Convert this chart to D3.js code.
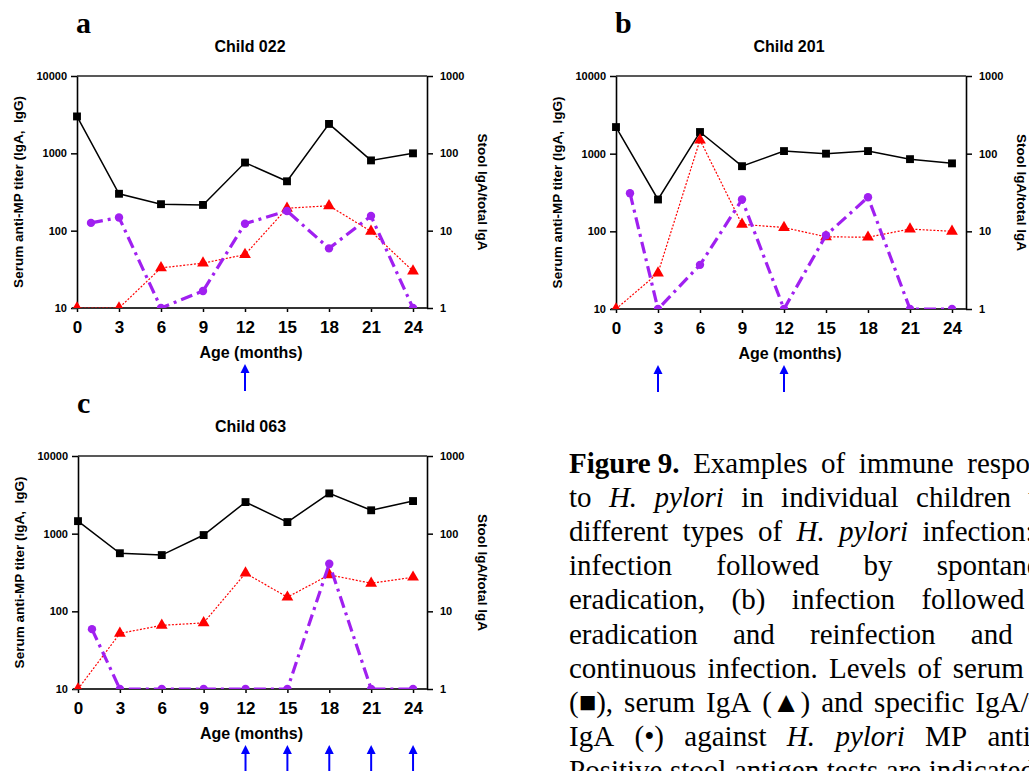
<!DOCTYPE html>
<html>
<head>
<meta charset="utf-8">
<script src="https://cdn.jsdelivr.net/npm/d3@7"></script>
<style>
  body { margin: 0; background: #fff; }
  svg { display: block; }
</style>
</head>
<body>
<div id="fig"></div>
<script>
// sampling points (months)
const months = [0, 3, 6, 9, 12, 15, 18, 21, 24];
const stoolMonths = [1, 3, 6, 9, 12, 15, 18, 21, 24];
const xTicks = [0, 3, 6, 9, 12, 15, 18, 21, 24];
const leftTicks = [10, 100, 1000, 10000];
const rightTicks = [1, 10, 100, 1000];

// Child 022 : serum IgG, serum IgA (left axis), stool IgA/total IgA (right axis)
const igg022 = [3000, 300, 220, 215, 760, 435, 2400, 810, 1000];
const iga022 = [10, 10, 33, 38, 49, 195, 210, 98, 30];
const stool022 = [12.6, 14.8, 1, 1.66, 12.3, 18, 5.9, 15.5, 1];
const arrows022 = [12];

// Child 201
const igg201 = [2200, 257, 1900, 690, 1080, 1000, 1080, 850, 750];
const iga201 = [10, 29, 1500, 123, 112, 85, 84, 107, 100];
const stool201 = [31, 1, 3.7, 25.7, 1, 8.9, 27.5, 1, 1];
const arrows201 = [3, 12];

// Child 063
const igg063 = [1450, 560, 530, 960, 2550, 1410, 3300, 2000, 2630];
const iga063 = [10, 52, 66, 71, 310, 152, 295, 230, 275];
const stool063 = [5.9, 1, 1, 1, 1, 1, 41, 1, 1];
const arrows063 = [12, 15, 18, 21, 24];

// caption lines (as they break in the figure)
const captionLines = [
  "Figure\u00a09. Examples of immune responses",
  "to H. pylori in individual children with",
  "different types of H. pylori infection: (a)",
  "infection followed by spontaneous",
  "eradication, (b) infection followed by",
  "eradication and reinfection and (c)",
  "continuous infection. Levels of serum IgG",
  "(\u25A0), serum IgA (\u25B2) and specific IgA/total",
  "IgA (\u2022) against H. pylori MP antigen.",
  "Positive stool antigen tests are indicated by arrows."
];
const boldWords = ["Figure\u00a09."];
const italicWords = ["H.", "pylori"];

const svgWidth = 1029;
const svgHeight = 771;
const sans = "'Liberation Sans', Arial, Helvetica, sans-serif";
const serif = "'Liberation Serif', 'Times New Roman', Times, serif";

var svg = d3.select("#fig")
  .append("svg")
  .attr("width", svgWidth)
  .attr("height", svgHeight);

var panels = [
  { id: "a", letter: "a", title: "Child 022", left: 77, top: 76, right: 427, bottom: 308,
    igg: igg022, iga: iga022, stool: stool022, arrows: arrows022 },
  { id: "b", letter: "b", title: "Child 201", left: 616, top: 76, right: 966, bottom: 309,
    igg: igg201, iga: iga201, stool: stool201, arrows: arrows201 },
  { id: "c", letter: "c", title: "Child 063", left: 78, top: 456, right: 427, bottom: 689,
    igg: igg063, iga: iga063, stool: stool063, arrows: arrows063 }
];

function drawPanel(p) {
  var x = d3.scaleLinear().domain([0, 25]).range([p.left, p.right]);
  var yLeft = d3.scaleLog().domain([10, 10000]).range([p.bottom, p.top]);
  var yRight = d3.scaleLog().domain([1, 1000]).range([p.bottom, p.top]);

  var g = svg.append("g").attr("class", "panel-" + p.id);

  // panel letter and title
  g.append("text")
    .attr("x", p.left - 1)
    .attr("y", p.top - 43)
    .attr("font-family", serif)
    .attr("font-weight", "bold")
    .attr("font-size", 30)
    .text(p.letter);

  g.append("text")
    .attr("x", (p.left + p.right) / 2 - 2)
    .attr("y", p.top - 24)
    .attr("text-anchor", "middle")
    .attr("font-family", sans)
    .attr("font-weight", "bold")
    .attr("font-size", 16)
    .text(p.title);

  // top frame line
  g.append("line")
    .attr("x1", p.left).attr("x2", p.right)
    .attr("y1", p.top).attr("y2", p.top)
    .attr("stroke", "#222").attr("stroke-width", 1.5);

  // left axis
  var leftAxis = d3.axisLeft(yLeft)
    .tickValues(leftTicks)
    .tickFormat(d3.format("d"))
    .tickSize(6)
    .tickSizeOuter(0)
    .tickPadding(4);
  var la = g.append("g")
    .attr("transform", `translate(${p.left}, 0)`)
    .call(leftAxis);

  // right axis
  var rightAxis = d3.axisRight(yRight)
    .tickValues(rightTicks)
    .tickFormat(d3.format("d"))
    .tickSize(6)
    .tickSizeOuter(0)
    .tickPadding(7);
  var ra = g.append("g")
    .attr("transform", `translate(${p.right}, 0)`)
    .call(rightAxis);

  [la, ra].forEach(function(ax) {
    ax.select(".domain").attr("stroke", "#000").attr("stroke-width", 1.6);
    ax.selectAll(".tick line").attr("stroke", "#000").attr("stroke-width", 1.5);
    ax.selectAll(".tick text")
      .attr("font-family", sans)
      .attr("font-weight", "bold")
      .attr("font-size", 11)
      .attr("fill", "#000");
  });

  // bottom axis
  var bottomAxis = d3.axisBottom(x)
    .tickValues(xTicks)
    .tickSize(4)
    .tickSizeOuter(0)
    .tickPadding(9);
  var ba = g.append("g")
    .attr("transform", `translate(0, ${p.bottom})`)
    .call(bottomAxis);
  ba.select(".domain").remove();
  ba.selectAll(".tick line").attr("stroke", "#000").attr("stroke-width", 1.5);
  ba.selectAll(".tick text")
    .attr("font-family", sans)
    .attr("font-weight", "bold")
    .attr("font-size", 17)
    .attr("fill", "#000");
  ba.append("line")
    .attr("x1", p.left - 5).attr("x2", p.right)
    .attr("y1", 0).attr("y2", 0)
    .attr("stroke", "#333").attr("stroke-width", 2);

  // axis titles
  g.append("text")
    .attr("transform", `translate(${p.left - 59}, ${(p.top + p.bottom) / 2}) rotate(-90)`)
    .attr("text-anchor", "middle")
    .attr("dominant-baseline", "central")
    .attr("font-family", sans)
    .attr("font-weight", "bold")
    .attr("font-size", 13.5)
    .attr("xml:space", "preserve")
    .text("Serum anti-MP titer (IgA,  IgG)");

  g.append("text")
    .attr("transform", `translate(${p.right + 55}, ${(p.top + p.bottom) / 2}) rotate(90)`)
    .attr("text-anchor", "middle")
    .attr("dominant-baseline", "central")
    .attr("font-family", sans)
    .attr("font-weight", "bold")
    .attr("font-size", 13.5)
    .text("Stool IgA/total IgA");

  g.append("text")
    .attr("x", (p.left + p.right) / 2 - 1)
    .attr("y", p.bottom + 50)
    .attr("text-anchor", "middle")
    .attr("font-family", sans)
    .attr("font-weight", "bold")
    .attr("font-size", 16)
    .text("Age (months)");

  // data, clipped at the x axis like the original
  var clipId = "clip-" + p.id;
  svg.append("clipPath").attr("id", clipId)
    .append("rect")
    .attr("x", p.left - 20).attr("y", p.top - 20)
    .attr("width", p.right - p.left + 40)
    .attr("height", p.bottom - p.top + 20);

  var data = g.append("g").attr("clip-path", `url(#${clipId})`);

  var iggPts = months.map((m, i) => [m, p.igg[i]]);
  var igaPts = months.map((m, i) => [m, p.iga[i]]);
  var stoolPts = stoolMonths.map((m, i) => [m, p.stool[i]]);

  var lineLeft = d3.line().x(d => x(d[0])).y(d => yLeft(d[1]));
  var lineRight = d3.line().x(d => x(d[0])).y(d => yRight(d[1]));

  // serum IgG
  data.append("path")
    .datum(iggPts)
    .attr("d", lineLeft)
    .attr("fill", "none")
    .attr("stroke", "#000")
    .attr("stroke-width", 1.5);
  data.selectAll(".sq")
    .data(iggPts)
    .enter()
    .append("path")
    .attr("class", "sq")
    .attr("transform", d => `translate(${x(d[0])}, ${yLeft(d[1])})`)
    .attr("d", d3.symbol().type(d3.symbolSquare).size(62))
    .attr("fill", "#000");

  // serum IgA
  data.append("path")
    .datum(igaPts)
    .attr("d", lineLeft)
    .attr("fill", "none")
    .attr("stroke", "#ff0000")
    .attr("stroke-width", 1.2)
    .attr("stroke-dasharray", "2,1.6");
  data.selectAll(".tri")
    .data(igaPts)
    .enter()
    .append("path")
    .attr("class", "tri")
    .attr("transform", d => `translate(${x(d[0])}, ${yLeft(d[1])})`)
    .attr("d", d3.symbol().type(d3.symbolTriangle).size(60))
    .attr("fill", "#ff0000");

  // stool IgA / total IgA
  data.append("path")
    .datum(stoolPts)
    .attr("d", lineRight)
    .attr("fill", "none")
    .attr("stroke", "#a020f0")
    .attr("stroke-width", 3.2)
    .attr("stroke-dasharray", "12,5,3,5");
  data.selectAll(".dot")
    .data(stoolPts)
    .enter()
    .append("circle")
    .attr("class", "dot")
    .attr("cx", d => x(d[0]))
    .attr("cy", d => yRight(d[1]))
    .attr("r", 4.2)
    .attr("fill", "#a020f0");

  // positive stool antigen tests
  p.arrows.forEach(function(m) {
    var ax = x(m);
    var y0 = p.bottom + 56;
    g.append("line")
      .attr("x1", ax).attr("x2", ax)
      .attr("y1", y0 + 6).attr("y2", y0 + 27)
      .attr("stroke", "#0000ff").attr("stroke-width", 2);
    g.append("path")
      .attr("d", `M${ax},${y0} L${ax - 4.5},${y0 + 9} L${ax + 4.5},${y0 + 9} Z`)
      .attr("fill", "#0000ff");
  });
}

panels.forEach(drawPanel);

// caption, justified column
var capLeft = 569;
var capRight = 1080;
var capTop = 473;
var capStep = 34.1;
var capG = svg.append("g")
  .attr("font-family", serif)
  .attr("font-size", 29)
  .attr("fill", "#000");

captionLines.forEach(function(line, i) {
  var y = capTop + i * capStep;
  var words = line.split(" ");
  var nodes = words.map(function(w) {
    return capG.append("text")
      .attr("y", y)
      .attr("font-weight", boldWords.indexOf(w) >= 0 ? "bold" : "normal")
      .attr("font-style", italicWords.indexOf(w) >= 0 ? "italic" : "normal")
      .text(w);
  });
  var widths = nodes.map(n => n.node().getComputedTextLength());
  var total = d3.sum(widths);
  var last = i === captionLines.length - 1;
  var gap = last ? 7.5 : (capRight - capLeft - total) / (nodes.length - 1);
  var xPos = capLeft;
  nodes.forEach(function(n, j) {
    n.attr("x", xPos);
    xPos += widths[j] + gap;
  });
});
</script>
</body>
</html>
